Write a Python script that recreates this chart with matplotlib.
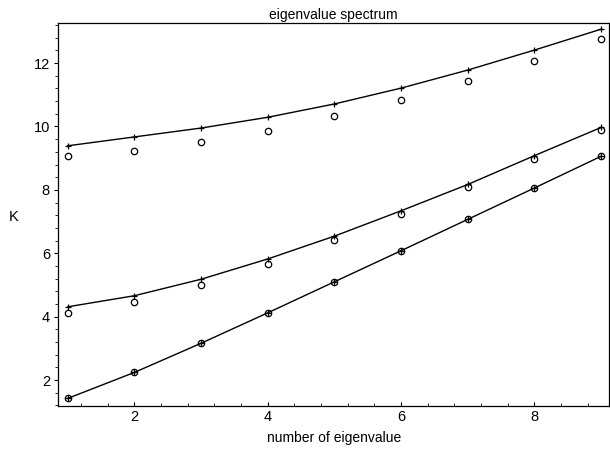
import matplotlib
matplotlib.use("Agg")
import matplotlib.pyplot as plt
from matplotlib.ticker import AutoMinorLocator

plt.rcParams['font.family'] = ['Liberation Sans', 'DejaVu Sans']

# номера собственных значений
n = [1, 2, 3, 4, 5, 6, 7, 8, 9]

# верхняя ветвь: кривая (+) и точки (o)
top_line = [9.39, 9.67, 9.95, 10.29, 10.71, 11.21, 11.78, 12.41, 13.07]
top_pts = [9.06, 9.22, 9.50, 9.86, 10.32, 10.84, 11.43, 12.07, 12.77]

# средняя ветвь
mid_line = [4.31, 4.66, 5.18, 5.82, 6.54, 7.34, 8.17, 9.08, 9.97]
mid_pts = [4.12, 4.47, 5.01, 5.66, 6.42, 7.23, 8.08, 8.98, 9.89]

# нижняя ветвь (точки совпадают с кривой)
low_line = [1.42, 2.24, 3.16, 4.12, 5.10, 6.08, 7.07, 8.06, 9.06]
low_pts = [1.42, 2.24, 3.16, 4.12, 5.10, 6.08, 7.07, 8.06, 9.06]

fig = plt.figure(figsize=(6.1, 4.51), dpi=100)
ax = fig.add_axes([0.0956, 0.1004, 0.903, 0.849])

for line, pts in [(top_line, top_pts), (mid_line, mid_pts), (low_line, low_pts)]:
    ax.plot(n, line, color='black', lw=1.0, marker='+', ms=5, mew=0.9)
    ax.plot(n, pts, ls='none', marker='o', ms=4.6, mfc='none', mec='black', mew=0.9)

ax.set_xlim(0.86, 9.12)
ax.set_ylim(1.19, 13.27)
ax.set_xticks([2, 4, 6, 8])
ax.set_yticks([2, 4, 6, 8, 10, 12])
ax.xaxis.set_minor_locator(AutoMinorLocator(5))
ax.yaxis.set_minor_locator(AutoMinorLocator(5))
ax.tick_params(which='major', length=3, width=0.8, labelsize=10.5)
ax.tick_params(axis='x', which='both', direction='in', pad=3)
ax.tick_params(axis='y', which='major', pad=3)
ax.tick_params(which='minor', length=2, width=0.6)

for s in ax.spines.values():
    s.set_linewidth(0.9)

ax.set_title('eigenvalue spectrum', fontsize=10, pad=3)
ax.set_xlabel('number of eigenvalue', fontsize=10, va='center')
ax.xaxis.set_label_coords(0.5, -0.085)
ax.set_ylabel('K', fontsize=10.5, rotation=0, va='center', ha='center')
ax.yaxis.set_label_coords(-0.082, 0.493)

fig.savefig('out.png', dpi=100)
